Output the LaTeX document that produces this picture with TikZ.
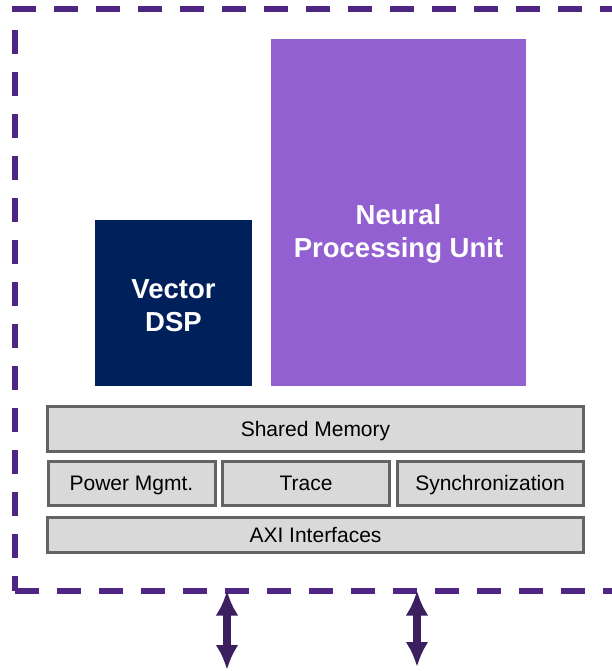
\documentclass[tikz,border=0pt]{standalone}
\usepackage{fontspec}
\setmainfont{Liberation Sans}
\usetikzlibrary{arrows.meta}

\definecolor{npupurple}{RGB}{147,96,210}
\definecolor{dspnavy}{RGB}{0,32,91}
\definecolor{edgepurple}{RGB}{79,38,131}
\definecolor{arrowpurple}{RGB}{60,31,95}
\definecolor{blockgray}{RGB}{217,217,217}
\definecolor{blockedge}{RGB}{99,99,99}

\tikzset{
  boundary/.style={draw=edgepurple, line width=6pt, dash pattern=on 24pt off 18pt},
  corebox/.style={draw=none, inner sep=0pt, font=\bfseries\fontsize{27.5}{33}\selectfont,
    text=white, align=center},
  infrablock/.style={draw=blockedge, fill=blockgray, line width=3pt, inner sep=0pt,
    font=\fontsize{21}{25}\selectfont, text=black, text height=15pt, text depth=0pt},
  busarrow/.style={draw=arrowpurple, line width=8pt,
    {Latex[length=25pt,width=23pt]}-{Latex[length=25pt,width=23pt]}},
}

\begin{document}
\begin{tikzpicture}[x=1pt,y=-1pt]
  \useasboundingbox (0,0) rectangle (612,671);
  \clip (0,0) rectangle (612,671);

  % dashed subsystem boundary (right side lies beyond the page)
  \coordinate (tl) at (15,9);
  \coordinate (bl) at (15,590.5);
  \coordinate (tr) at (640,9);
  \coordinate (br) at (640,590.5);
  \draw[boundary] (12,9) -- (tr);
  \draw[boundary, dash phase=21pt] (tl) -- (bl);
  \draw[boundary] (bl) -- (br);

  % compute cores
  \node[corebox, fill=dspnavy, minimum width=157pt, minimum height=166pt]
    (dsp) at (173.5,303) {};
  \node[corebox] (dsplabel) at (173.5,305.5) {Vector\\DSP};
  \node[corebox, fill=npupurple, minimum width=255pt, minimum height=347pt]
    (npu) at (398.5,212.5) {};
  \node[corebox] (npulabel) at (398.5,233.5) {Neural\\Processing Unit};

  % shared infrastructure
  \node[infrablock, minimum width=536pt, minimum height=45pt]
    (mem) at (315.5,428.5) {Shared Memory};
  \node[infrablock, minimum width=167pt, minimum height=44pt]
    (pwr) at (131.5,483) {Power Mgmt.};
  \node[infrablock, minimum width=167pt, minimum height=44pt]
    (trace) at (306,483) {Trace};
  \node[infrablock, minimum width=186pt, minimum height=44pt]
    (sync) at (490,483) {Synchronization};
  \node[infrablock, minimum width=536pt, minimum height=35pt]
    (axi) at (315.5,534.5) {AXI Interfaces};

  % external bus connections
  \coordinate (portA) at (227,590.5);
  \coordinate (portB) at (417,590.5);
  \coordinate (extA) at (227,670);
  \coordinate (extB) at (417,667);
  \draw[busarrow] (portA) -- (extA);
  \draw[busarrow] (portB) -- (extB);
\end{tikzpicture}
\end{document}
